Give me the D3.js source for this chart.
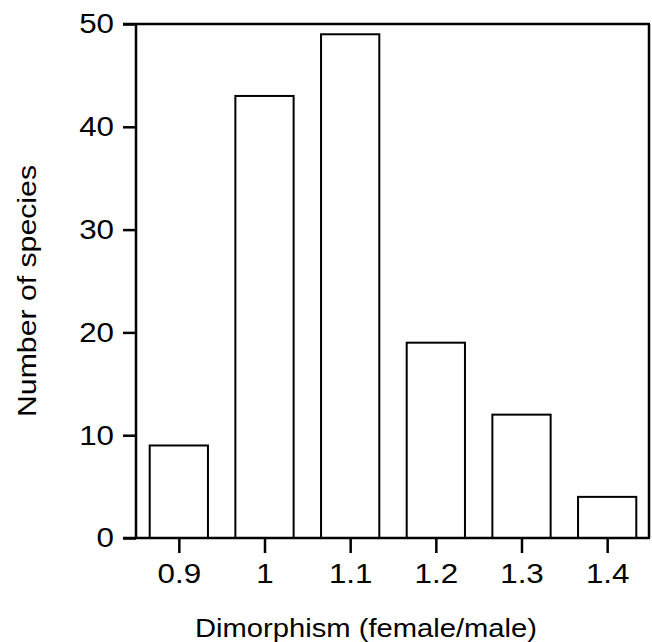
<!DOCTYPE html>
<html>
<head>
<meta charset="utf-8">
<script src="https://cdn.jsdelivr.net/npm/d3@7"></script>
<style>
  body { margin: 0; background: #fff; }
  svg text { font-family: "Liberation Sans", Arial, Helvetica, sans-serif; fill: #000; }
</style>
</head>
<body>
<svg id="chart" width="652" height="642"></svg>
<script>
// Histogram data (bin centres and counts)
var bins = [0.9, 1.0, 1.1, 1.2, 1.3, 1.4];
var counts = [9, 43, 49, 19, 12, 4];
var xTicks = [0.9, 1.0, 1.1, 1.2, 1.3, 1.4];
var yTicks = [0, 10, 20, 30, 40, 50];

var data = bins.map(function(b, i) { return { bin: b, count: counts[i] }; });

var margin = { top: 24, right: 2, bottom: 104, left: 136 },
    width = 652 - margin.left - margin.right,
    height = 642 - margin.top - margin.bottom;

var svg = d3.select("#chart")
    .append("g")
    .attr("transform", "translate(" + margin.left + "," + margin.top + ")");

var x = d3.scaleLinear()
    .domain([0.85, 1.45])
    .range([0, width]);

var y = d3.scaleLinear()
    .domain([0, 50])
    .range([height, 0]);

var halfBar = 0.034;
var stretch = 1.12; // reference glyphs are a bit wider than Liberation Sans

// bars
svg.selectAll(".bar")
    .data(data)
    .enter().append("rect")
    .attr("class", "bar")
    .attr("x", function(d) { return x(d.bin - halfBar); })
    .attr("width", function(d) { return x(d.bin + halfBar) - x(d.bin - halfBar); })
    .attr("y", function(d) { return y(d.count); })
    .attr("height", function(d) { return y(0) - y(d.count); })
    .style("fill", "#fff")
    .style("stroke", "#000")
    .style("stroke-width", 2);

// frame: top and right lines
svg.append("line")
    .attr("x1", -13).attr("x2", width)
    .attr("y1", 0).attr("y2", 0)
    .style("stroke", "#000").style("stroke-width", 2.5);

svg.append("line")
    .attr("x1", width - 1).attr("x2", width - 1)
    .attr("y1", 0).attr("y2", height)
    .style("stroke", "#000").style("stroke-width", 2.5);

// axes
var yAxis = svg.append("g")
    .attr("class", "y-axis")
    .call(d3.axisLeft(y).tickValues(yTicks).tickSize(13).tickPadding(9).tickFormat(d3.format("d")));

var xAxis = svg.append("g")
    .attr("class", "x-axis")
    .attr("transform", "translate(0," + height + ")")
    .call(d3.axisBottom(x).tickValues(xTicks).tickSize(15).tickPadding(10).tickFormat(function(d) { return d3.format("")(+d.toFixed(1)); }));

// bottom line extends left to meet the y tick length
svg.append("line")
    .attr("x1", -13).attr("x2", width)
    .attr("y1", height).attr("y2", height)
    .style("stroke", "#000").style("stroke-width", 2.5);

svg.selectAll(".domain").style("stroke", "#000").style("stroke-width", 2.5);
svg.selectAll(".tick line").style("stroke", "#000").style("stroke-width", 2.5);
svg.selectAll(".tick text")
    .style("font-size", "28px")
    .style("font-family", "'Liberation Sans', Arial, sans-serif");
yAxis.selectAll(".tick text")
    .attr("x", -22 / stretch)
    .attr("transform", "scale(" + stretch + ",1)");
xAxis.selectAll(".tick text")
    .attr("transform", "scale(" + stretch + ",1)");
yAxis.select(".domain").attr("d", "M0," + height + "V0");
xAxis.select(".domain").remove();

// axis labels
d3.select("#chart").append("text")
    .attr("x", 366)
    .attr("y", 637)
    .attr("textLength", 342)
    .attr("lengthAdjust", "spacingAndGlyphs")
    .style("text-anchor", "middle")
    .style("font-size", "26px")
    .text("Dimorphism (female/male)");

d3.select("#chart").append("text")
    .attr("transform", "translate(36,291) rotate(-90)")
    .attr("textLength", 252)
    .attr("lengthAdjust", "spacingAndGlyphs")
    .style("text-anchor", "middle")
    .style("font-size", "26px")
    .text("Number of species");
</script>
</body>
</html>
